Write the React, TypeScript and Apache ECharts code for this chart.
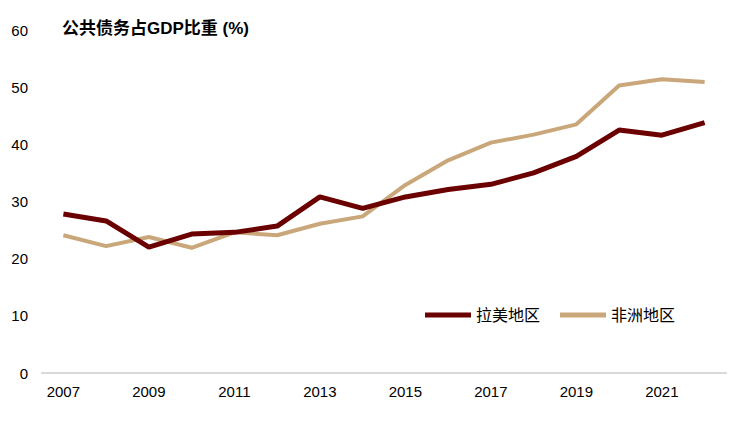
import React, { useEffect, useRef } from "react";
import * as echarts from "echarts";

const years = ["2007","2008","2009","2010","2011","2012","2013","2014","2015","2016","2017","2018","2019","2020","2021","2022"];
const latinAmerica = [27.8, 26.6, 22.0, 24.3, 24.6, 25.7, 30.8, 28.8, 30.8, 32.1, 33.0, 35.0, 37.9, 42.5, 41.6, 43.8];
const africa = [24.1, 22.2, 23.8, 21.9, 24.6, 24.1, 26.1, 27.4, 32.9, 37.2, 40.3, 41.7, 43.5, 50.3, 51.4, 50.9];
const seriesNames = ["拉美地区", "非洲地区"];
const titleText = "公共债务占GDP比重 (%)";

export default function App() {
  const ref = useRef<HTMLDivElement>(null);
  useEffect(() => {
    if (!ref.current) return;
    const chart = echarts.init(ref.current, undefined, { renderer: "svg" });
    const font = "Liberation Sans, Arial, Noto Sans CJK SC, sans-serif";
    chart.setOption({
      animation: false,
      textStyle: { fontFamily: font },
      title: {
        text: titleText,
        left: 57,
        top: 15,
        textStyle: { fontSize: 17, fontWeight: "bold", color: "#000", fontFamily: font },
      },
      grid: { left: 42, right: 7, top: 30, bottom: 52 },
      legend: {
        data: seriesNames,
        left: 420,
        top: 302,
        itemWidth: 46,
        itemHeight: 5,
        itemGap: 20,
        icon: "rect",
        textStyle: { fontSize: 16, color: "#000" },
      },
      xAxis: {
        type: "category",
        data: years,
        boundaryGap: true,
        axisLine: { lineStyle: { color: "#d9d9d9", width: 2 } },
        axisTick: { show: false },
        axisLabel: { interval: 1, fontSize: 15, color: "#000", margin: 11 },
      },
      yAxis: {
        type: "value",
        min: 0,
        max: 60,
        interval: 10,
        splitLine: { show: false },
        axisLine: { show: false },
        axisTick: { show: false },
        axisLabel: { fontSize: 15, color: "#000", margin: 14 },
      },
      series: [
        {
          name: seriesNames[0],
          type: "line",
          data: latinAmerica,
          symbol: "none",
          lineStyle: { color: "#6b0000", width: 5 },
          itemStyle: { color: "#6b0000" },
          z: 3,
        },
        {
          name: seriesNames[1],
          type: "line",
          data: africa,
          symbol: "none",
          lineStyle: { color: "#c9a77a", width: 4 },
          itemStyle: { color: "#c9a77a" },
          z: 2,
        },
      ],
    });
    return () => chart.dispose();
  }, []);
  return <div ref={ref} style={{ width: 733, height: 425, position: "absolute", left: 0, top: 0 }} />;
}
